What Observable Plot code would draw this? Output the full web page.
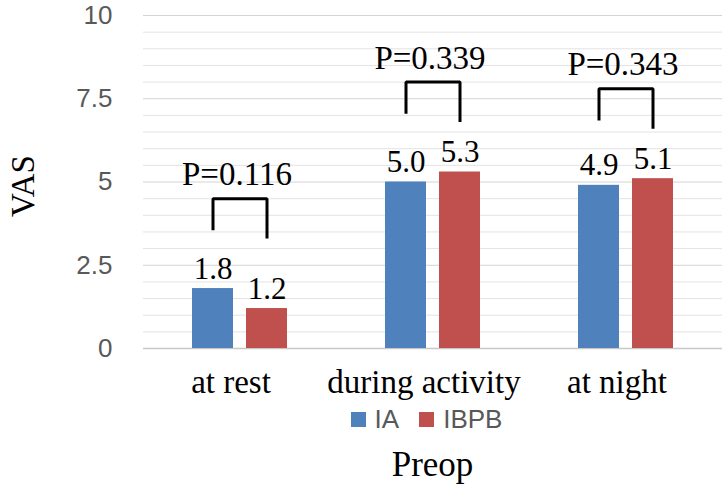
<!DOCTYPE html>
<html>
<head>
<meta charset="utf-8">
<script src="https://cdn.jsdelivr.net/npm/d3@7"></script>
<script src="https://cdn.jsdelivr.net/npm/@observablehq/plot@0.6"></script>
<style>
  html, body { margin: 0; padding: 0; background: #fff; }
  #wrap { position: relative; width: 728px; height: 496px; overflow: hidden; }
  #legend { position: absolute; left: 137px; width: 579px; top: 404px; height: 30px;
    display: flex; justify-content: center; align-items: center;
    font-family: "Liberation Sans", sans-serif; font-size: 26px; color: #595959; }
  #legend .item { display: flex; align-items: center; margin: 0 10px; }
  #legend .sw { width: 15px; height: 15px; margin-right: 9px; }
  #xtitle { position: absolute; left: 143px; width: 579px; top: 447px; text-align: center;
    font-family: "Liberation Serif", serif; font-size: 35px; line-height: 35px; color: #000; }
</style>
</head>
<body>
<div id="wrap">
  <div id="chart"></div>
  <div id="legend"></div>
  <div id="xtitle">Preop</div>
</div>
<script>
const categories = ["at rest", "during activity", "at night"];
const series = ["IA", "IBPB"];
const iaValues = [1.8, 5.0, 4.9];
const ibpbValues = [1.2, 5.3, 5.1];
const pLabels = ["P=0.116", "P=0.339", "P=0.343"];
const yTicks = [0, 2.5, 5, 7.5, 10];
const colors = ["#4F81BD", "#C0504D"];

const rows = [];
categories.forEach((c, i) => {
  rows.push({cat: c, series: "IA", value: iaValues[i]});
  rows.push({cat: c, series: "IBPB", value: ibpbValues[i]});
});

// significance brackets, derived from the bar values
const bracketPts = [];
const pRows = [];
categories.forEach((c, i) => {
  const top = Math.max(iaValues[i], ibpbValues[i]) + 2.7;
  bracketPts.push({cat: c, series: "IA", y: top - 0.95});
  bracketPts.push({cat: c, series: "IA", y: top});
  bracketPts.push({cat: c, series: "IBPB", y: top});
  bracketPts.push({cat: c, series: "IBPB", y: top - 1.2});
  pRows.push({cat: c, y: top + 0.4, label: pLabels[i]});
});

const minor = d3.range(0, 10.001, 0.5).filter(v => !yTicks.includes(v));
const serif = "'Liberation Serif', 'Times New Roman', serif";
const sans = "'Liberation Sans', Arial, sans-serif";

const chart = Plot.plot({
  width: 728,
  height: 400,
  marginLeft: 143,
  marginRight: 6,
  marginTop: 15,
  marginBottom: 52,
  style: {fontFamily: serif, background: "#fff"},
  fx: {domain: categories, padding: 0},
  x: {domain: series, paddingInner: 0.236, paddingOuter: 0.873, axis: null},
  y: {domain: [0, 10]},
  color: {domain: series, range: colors},
  marks: [
    Plot.ruleY(minor, {stroke: "#e3e3e3", strokeWidth: 1}),
    Plot.ruleY(yTicks.filter(v => v > 0), {stroke: "#d4d4d4", strokeWidth: 1}),
    Plot.ruleY([0], {stroke: "#c8c8c8", strokeWidth: 1.5}),
    Plot.barY(rows, {fx: "cat", x: "series", y: "value", fill: "series"}),
    Plot.text(rows, {fx: "cat", x: "series", y: "value", text: d => d.value.toFixed(1),
      lineAnchor: "bottom", dy: -10, fontSize: 31, fontFamily: serif, fill: "#000"}),
    Plot.line(bracketPts, {fx: "cat", x: "series", y: "y", z: "cat",
      stroke: "#000", strokeWidth: 3, strokeLinejoin: "miter", strokeLinecap: "butt"}),
    Plot.text(pRows, {fx: "cat", y: "y", text: "label", lineAnchor: "bottom", dx: -3,
      fontSize: 33, fontFamily: serif, fill: "#000"}),
    Plot.axisY(yTicks, {tickSize: 0, tickPadding: 31, fontSize: 26, fontFamily: sans,
      fill: "#595959", label: null, tickFormat: d => String(d)}),
    Plot.text(["VAS"], {fx: () => categories[0], frameAnchor: "left", textAnchor: "middle",
      text: d => d, rotate: -90, dx: -120, dy: 4, fontSize: 33, fontFamily: serif, fill: "#000"}),
    Plot.axisFx({anchor: "bottom", tickSize: 0, tickPadding: 21, dx: -9, fontSize: 33,
      fontFamily: serif, fill: "#000", label: null})
  ]
});
document.getElementById("chart").appendChild(chart);

const legend = document.getElementById("legend");
series.forEach((s, i) => {
  const item = document.createElement("div");
  item.className = "item";
  const sw = document.createElement("div");
  sw.className = "sw";
  sw.style.background = colors[i];
  const t = document.createElement("span");
  t.textContent = s;
  item.appendChild(sw);
  item.appendChild(t);
  legend.appendChild(item);
});
</script>
</body>
</html>
